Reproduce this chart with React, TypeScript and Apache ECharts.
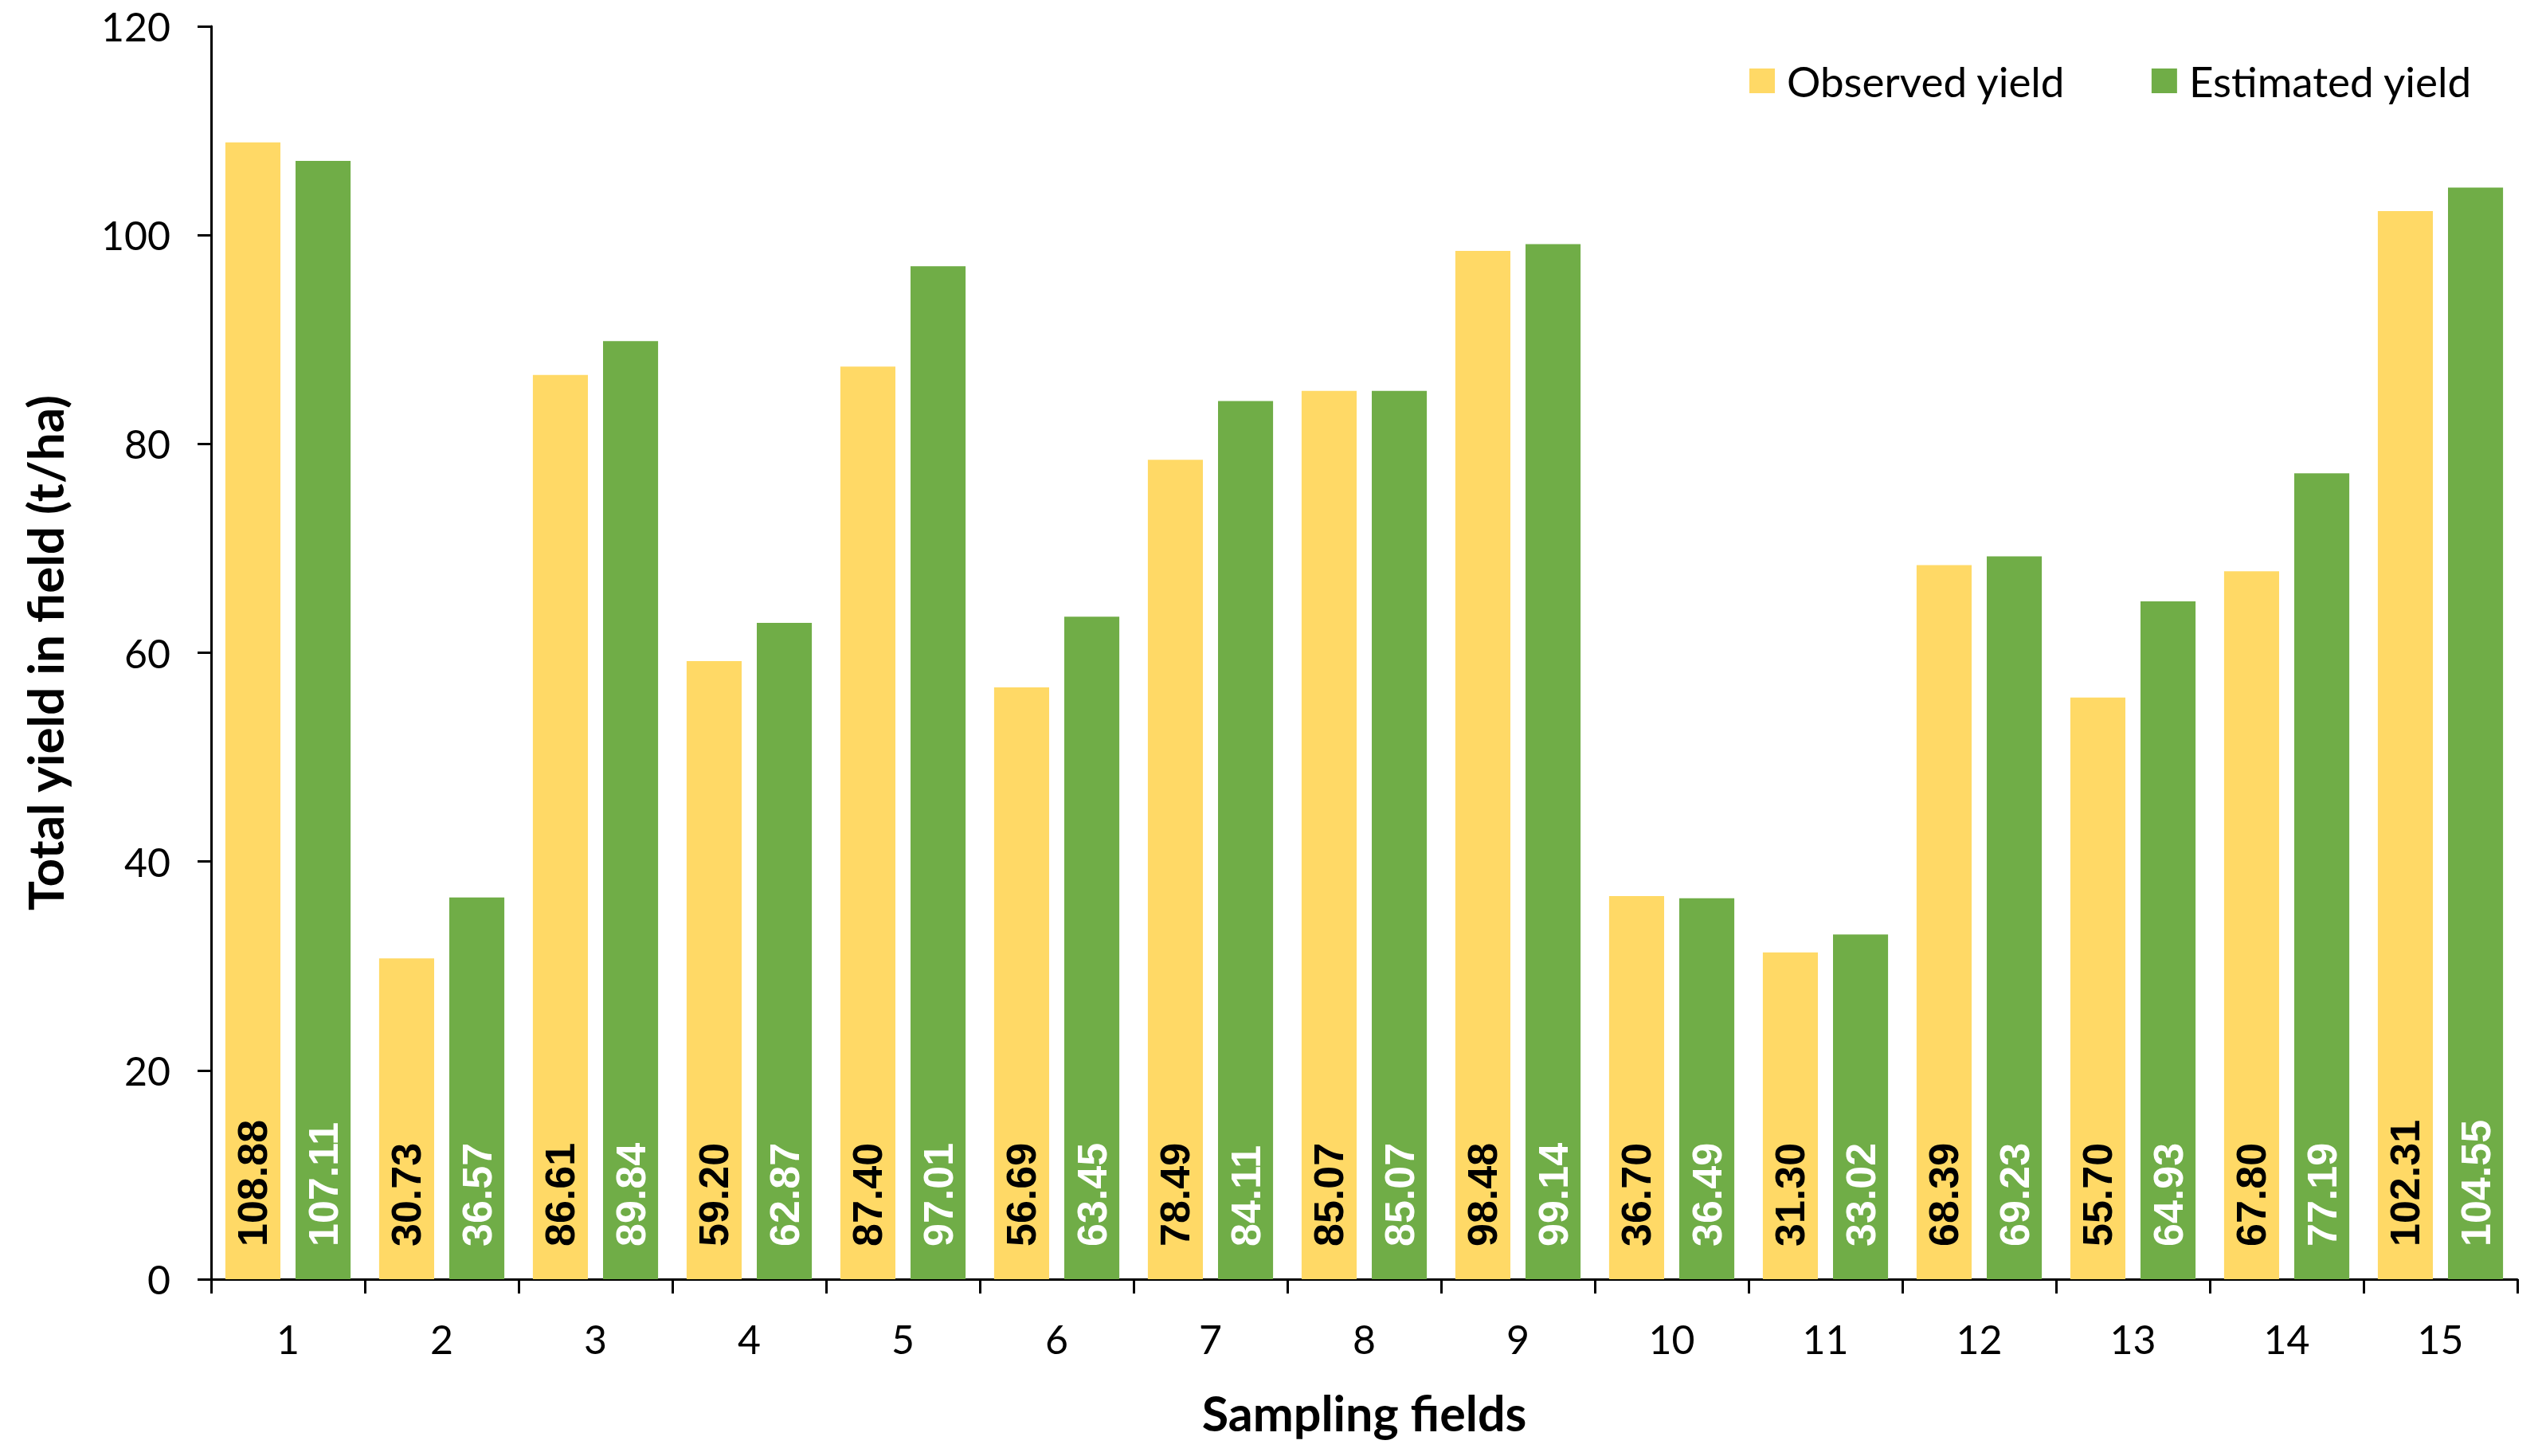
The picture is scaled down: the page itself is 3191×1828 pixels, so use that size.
import React, { useEffect, useRef } from "react";
import * as echarts from "echarts";

const categories = ["1", "2", "3", "4", "5", "6", "7", "8", "9", "10", "11", "12", "13", "14", "15"];
const observedYield = [108.88, 30.73, 86.61, 59.2, 87.4, 56.69, 78.49, 85.07, 98.48, 36.7, 31.3, 68.39, 55.7, 67.8, 102.31];
const estimatedYield = [107.11, 36.57, 89.84, 62.87, 97.01, 63.45, 84.11, 85.07, 99.14, 36.49, 33.02, 69.23, 64.93, 77.19, 104.55];
const seriesNames = ["Observed yield", "Estimated yield"];
const yAxisTitle = "Total yield in field (t/ha)";
const xAxisTitle = "Sampling fields";

const W = 3191;
const H = 1828;

export default function App() {
  const ref = useRef<HTMLDivElement>(null);
  useEffect(() => {
    if (!ref.current) return;
    const chart = echarts.init(ref.current, null, { renderer: "svg" });
    const labelBase = {
      show: true,
      position: "insideBottom",
      rotate: 90,
      align: "left",
      verticalAlign: "middle",
      distance: 41,
      fontFamily: "Liberation Sans",
      fontWeight: "bold",
      fontSize: 52,
      formatter: (p: any) => Number(p.value).toFixed(2),
    };
    chart.setOption({
      animation: false,
      backgroundColor: "#ffffff",
      textStyle: { fontFamily: "Lato" },
      grid: { left: 265, right: 31, top: 33, bottom: 222, containLabel: false },
      legend: {
        left: 2191,
        top: 70,
        itemWidth: 32,
        itemHeight: 31,
        itemGap: 108,
        icon: "rect",
        data: seriesNames,
        textStyle: {
          fontFamily: "Lato",
          fontSize: 53,
          color: "#000000",
          padding: [0, 0, 0, 10],
        },
      },
      xAxis: {
        type: "category",
        data: categories,
        name: xAxisTitle,
        nameLocation: "middle",
        nameGap: 137,
        nameTextStyle: { fontFamily: "Lato", fontWeight: "bold", fontSize: 61, color: "#000000" },
        axisLine: { show: true, lineStyle: { color: "#000000", width: 3 } },
        axisTick: { show: true, length: 18, lineStyle: { color: "#000000", width: 3 } },
        axisLabel: { margin: 50, fontFamily: "Lato", fontSize: 50, color: "#000000" },
        splitLine: { show: false },
      },
      yAxis: {
        type: "value",
        min: 0,
        max: 120,
        interval: 20,
        name: yAxisTitle,
        nameLocation: "middle",
        nameRotate: 90,
        nameGap: 178,
        nameTextStyle: { fontFamily: "Lato", fontWeight: "bold", fontSize: 62, color: "#000000" },
        axisLine: { show: true, lineStyle: { color: "#000000", width: 3 } },
        axisTick: { show: true, length: 17, lineStyle: { color: "#000000", width: 3 } },
        axisLabel: { margin: 51, fontFamily: "Lato", fontSize: 50, color: "#000000" },
        splitLine: { show: false },
      },
      series: [
        {
          name: seriesNames[0],
          type: "bar",
          data: observedYield,
          barWidth: "35.8%",
          barGap: "27.5%",
          itemStyle: { color: "#FFD966" },
          label: { ...labelBase, color: "#000000" },
        },
        {
          name: seriesNames[1],
          type: "bar",
          data: estimatedYield,
          barWidth: "35.8%",
          barGap: "27.5%",
          itemStyle: { color: "#70AD47" },
          label: { ...labelBase, color: "#ffffff" },
        },
      ],
    });
    return () => chart.dispose();
  }, []);
  return (
    <div
      ref={ref}
      style={{ position: "absolute", left: 0, top: 0, width: W, height: H, background: "#ffffff" }}
    />
  );
}
